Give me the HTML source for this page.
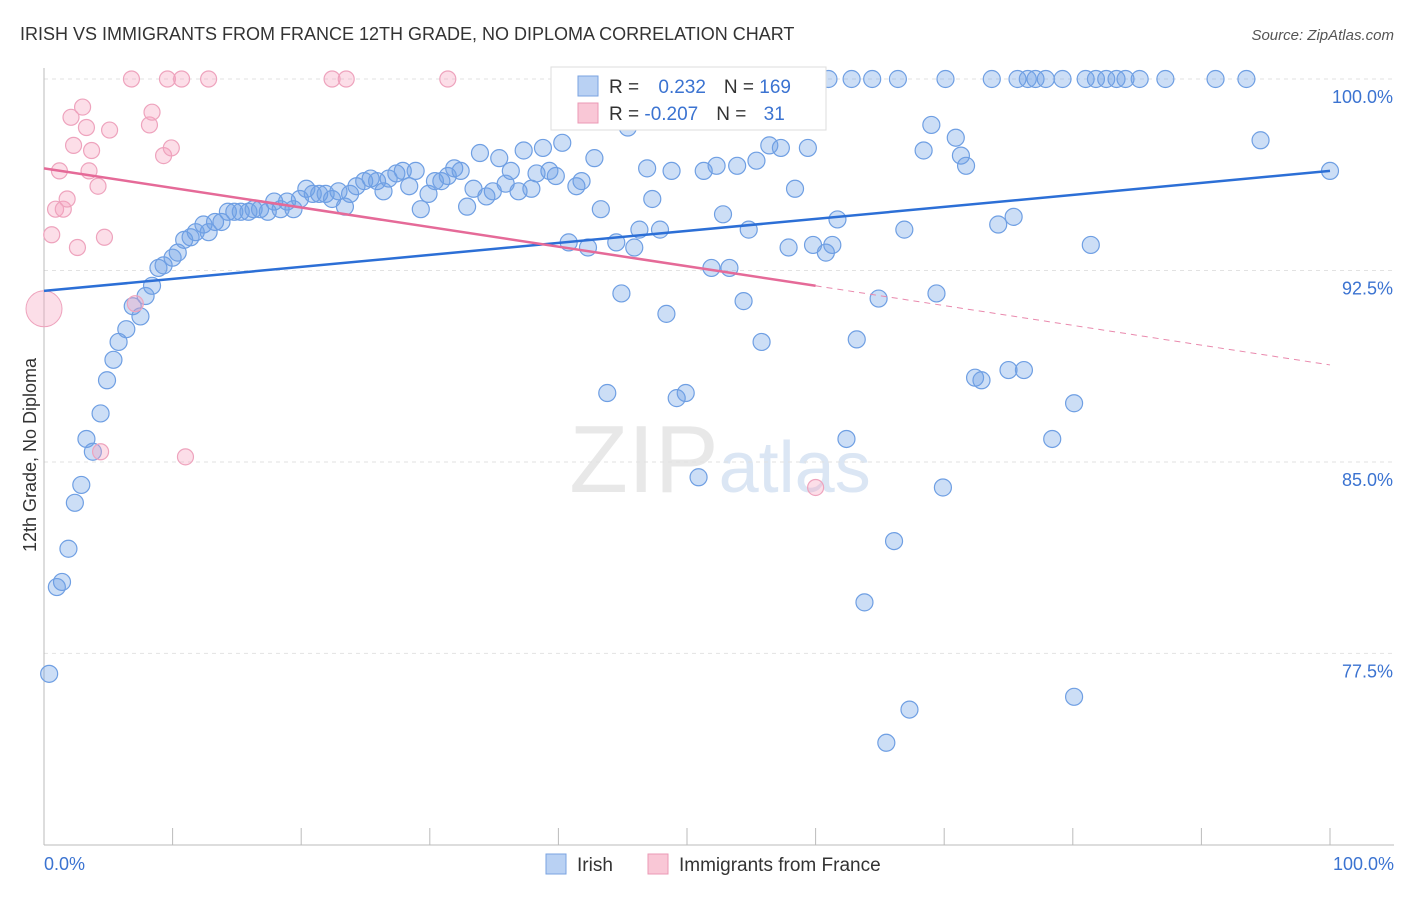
<!DOCTYPE html>
<html><head><meta charset="utf-8"><style>
body{margin:0;background:#fff;font-family:"Liberation Sans",sans-serif;}
svg text{font-family:"Liberation Sans",sans-serif;}
</style></head><body>
<svg id="chart" width="1406" height="892">
<text x="20" y="40" font-size="18" fill="#333">IRISH VS IMMIGRANTS FROM FRANCE 12TH GRADE, NO DIPLOMA CORRELATION CHART</text>
<text x="1394" y="40" font-size="15" fill="#555" text-anchor="end" font-style="italic">Source: ZipAtlas.com</text>
<text x="36" y="455" font-size="18" fill="#333" text-anchor="middle" transform="rotate(-90 36 455)">12th Grade, No Diploma</text>
<text x="720" y="492" font-size="96" fill="#e8e8e8" text-anchor="middle" font-family="Liberation Serif">ZIP<tspan fill="#dbe6f4" font-family="Liberation Sans" font-size="72">atlas</tspan></text>
<g id="grid"></g><g id="axes"></g><g id="marks"></g>
<g>
<rect x="551" y="67" width="275" height="63" fill="#fff" stroke="#ddd"/>
<rect x="578" y="76" width="20" height="20" fill="#b9d1f3" stroke="#7aa3e0"/>
<rect x="578" y="103" width="20" height="20" fill="#f9c7d6" stroke="#eb9ab5"/>
<text x="609" y="93" font-size="19" fill="#333">R = <tspan fill="#3b73d1" dx="14">0.232</tspan><tspan fill="#333" dx="18">N = </tspan><tspan fill="#3b73d1">169</tspan></text>
<text x="609" y="120" font-size="19" fill="#333">R = <tspan fill="#3b73d1">-0.207</tspan><tspan fill="#333" dx="18">N = </tspan><tspan fill="#3b73d1" dx="12">31</tspan></text>
</g>
<g>
<rect x="546" y="854" width="20" height="20" fill="#b9d1f3" stroke="#7aa3e0"/>
<text x="577" y="871" font-size="19" fill="#333">Irish</text>
<rect x="648" y="854" width="20" height="20" fill="#f9c7d6" stroke="#eb9ab5"/>
<text x="679" y="871" font-size="19" fill="#333">Immigrants from France</text>
</g>
</svg>
<script>
const yTicks=[100,92.5,85,77.5];
const yTickLabels=["100.0%","92.5%","85.0%","77.5%"];
const xTickLabels=["0.0%","100.0%"];
const blueX=[61.0,62.8,64.4,66.4,70.1,73.7,75.7,76.5,77.1,77.9,79.2,81.0,81.8,82.6,83.4,84.1,85.2,87.2,91.1,93.5,
0.4,1.0,1.4,1.9,2.4,2.9,3.3,3.8,4.4,4.9,5.4,5.8,6.4,6.9,7.5,7.9,8.4,8.9,9.3,10.0,10.4,10.9,11.4,11.8,12.4,12.8,13.3,13.8,14.3,14.8,15.3,15.9,16.3,16.8,17.4,17.9,18.4,18.9,19.4,19.9,20.4,20.9,21.4,21.9,22.4,22.9,23.4,23.8,24.3,24.9,25.4,25.9,26.4,26.8,27.4,27.9,28.4,28.9,29.3,29.9,30.4,30.9,31.4,31.9,32.4,32.9,33.4,33.9,34.4,34.9,35.4,35.9,36.3,36.9,37.3,37.9,38.3,38.8,39.3,39.8,40.3,40.8,41.4,41.8,42.3,42.8,43.3,43.8,44.5,44.9,45.4,45.9,46.3,46.9,47.3,47.9,48.4,48.8,49.2,49.9,50.9,51.3,51.9,52.3,52.8,53.3,53.9,54.4,54.8,55.4,55.8,56.4,56.7,57.3,57.9,58.4,59.4,59.8,60.8,61.3,61.7,62.4,63.2,63.8,64.9,65.5,66.1,66.9,67.3,68.4,69.0,69.4,69.9,70.9,71.3,71.7,72.4,72.9,74.2,75.0,75.4,76.2,78.4,80.1,80.1,81.4,94.6,100.0];
const blueY=[100,100,100,100,100,100,100,100,100,100,100,100,100,100,100,100,100,100,100,100,
76.7,80.1,80.3,81.6,83.4,84.1,85.9,85.4,86.9,88.2,89.0,89.7,90.2,91.1,90.7,91.5,91.9,92.6,92.7,93.0,93.2,93.7,93.8,94.0,94.3,94.0,94.4,94.4,94.8,94.8,94.8,94.8,94.9,94.9,94.8,95.2,94.9,95.2,94.9,95.3,95.7,95.5,95.5,95.5,95.3,95.6,95.0,95.5,95.8,96.0,96.1,96.0,95.6,96.1,96.3,96.4,95.8,96.4,94.9,95.5,96.0,96.0,96.2,96.5,96.4,95.0,95.7,97.1,95.4,95.6,96.9,95.9,96.4,95.6,97.2,95.7,96.3,97.3,96.4,96.2,97.5,93.6,95.8,96.0,93.4,96.9,94.9,87.7,93.6,91.6,98.1,93.4,94.1,96.5,95.3,94.1,90.8,96.4,87.5,87.7,84.4,96.4,92.6,96.6,94.7,92.6,96.6,91.3,94.1,96.8,89.7,97.4,98.9,97.3,93.4,95.7,97.3,93.5,93.2,93.5,94.5,85.9,89.8,79.5,91.4,74.0,81.9,94.1,75.3,97.2,98.2,91.6,84.0,97.7,97.0,96.6,88.3,88.2,94.3,88.6,94.6,88.6,85.9,87.3,75.8,93.5,97.6,96.4];
const pinkX=[0.6,0.9,1.2,1.5,1.8,2.1,2.3,2.6,3.0,3.3,3.5,3.7,4.2,4.4,4.7,5.1,6.8,7.1,8.2,8.4,9.3,9.6,9.9,10.7,11.0,12.8,22.4,23.5,31.4,60.0];
const pinkY=[93.9,94.9,96.4,94.9,95.3,98.5,97.4,93.4,98.9,98.1,96.4,97.2,95.8,85.4,93.8,98.0,100,91.2,98.2,98.7,97.0,100,97.3,100,85.2,100,100,100,100,84.0];
const bigPink=[0,91.0];
const blueTrend=[91.7,96.4];
const pinkTrend=[96.5,91.9,88.8];
const NS="http://www.w3.org/2000/svg";
const X=v=>44+v*12.86, Y=v=>79+(100-v)*25.53;
function mk(t,a,p){const e=document.createElementNS(NS,t);for(const k in a)e.setAttribute(k,a[k]);p.appendChild(e);return e;}
const grid=document.getElementById('grid'),axes=document.getElementById('axes'),marks=document.getElementById('marks');
yTicks.forEach((t,i)=>{
 const l=mk('line',{x1:44,x2:1394,y1:Y(t),y2:Y(t),stroke:'#e2e2e2','stroke-dasharray':'4,4'},grid);
 
 
 const tx=mk('text',{x:1393,y:Y(t)+24,'font-size':18,fill:'#3b73d1','text-anchor':'end'},axes);
 tx.textContent=yTickLabels[i];
 
 
});
let a=mk('line',{x1:44,x2:44,y1:68,y2:845,stroke:'#bbb'},axes);

a=mk('line',{x1:44,x2:1394,y1:845,y2:845,stroke:'#bbb'},axes);

for(let i=0;i<=10;i++){const t=mk('line',{x1:X(i*10),x2:X(i*10),y1:828,y2:845,stroke:'#bbb'},axes);
 
 }
[[0,'start',44],[1,'end',1394]].forEach(([i,an,x])=>{const t=mk('text',{x:x,y:870,'font-size':18,fill:'#3b73d1','text-anchor':an},axes);t.textContent=xTickLabels[i];
 
 });
blueX.forEach((x,i)=>{const c=mk('circle',{cx:X(x),cy:Y(blueY[i]),r:8.5,fill:'rgba(110,160,230,0.35)',stroke:'#6f9fe3','stroke-width':1.2},marks);
 
 });
let bp=mk('circle',{cx:X(bigPink[0]),cy:Y(bigPink[1]),r:18,fill:'rgba(245,160,190,0.35)',stroke:'#eea3bd'},marks);


pinkX.forEach((x,i)=>{const c=mk('circle',{cx:X(x),cy:Y(pinkY[i]),r:8,fill:'rgba(245,160,190,0.35)',stroke:'#eea3bd','stroke-width':1.2},marks);
 
 });
let tl=mk('line',{x1:X(0),y1:Y(blueTrend[0]),x2:X(100),y2:Y(blueTrend[1]),stroke:'#2c6fd6','stroke-width':2.5},marks);

tl=mk('line',{x1:X(0),y1:Y(pinkTrend[0]),x2:X(60),y2:Y(pinkTrend[1]),stroke:'#e56a98','stroke-width':2.5},marks);

tl=mk('line',{x1:X(60),y1:Y(pinkTrend[1]),x2:X(100),y2:Y(pinkTrend[2]),stroke:'#e989ad','stroke-width':1,'stroke-dasharray':'6,5'},marks);

</script>
</body></html>
